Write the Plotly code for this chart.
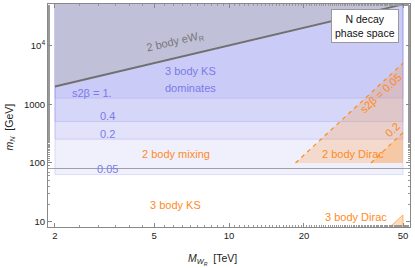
import numpy as np
import plotly.graph_objects as go

# ---- data ----
x_lo, x_hi = 2, 50                     # M_WR range of the regions [TeV]
ew_line_x = [2, 50]                    # 2 body eW_R boundary (m_N = M_WR)
ew_line_y = [2000, 50000]
s2b_vals = ["s2β = 1.", "0.4", "0.2", "0.05"]
s2b_bounds = [1270, 508, 254, 63.5]    # lower edge of each 3-body-KS band [GeV]
mw_line = 80.4                         # horizontal gray line [GeV]
dirac_floor = 100                      # bottom of 2 body Dirac region [GeV]
dirac05_x = [18.5, 50]; dirac05_y = [100, 5000]
dirac02_x = [37.2, 50]; dirac02_y = [100, 330]
dirac3_x = [44.0, 50];  dirac3_y = [8.0, 13.0]
ymin, ymax = 10**0.910, 10**4.705

blue = "rgba(120,120,240,0.115)"
orange_fill = "rgba(255,140,30,0.22)"
orange = "#ff8a1c"
blue_txt = "#7a7ae8"

fig = go.Figure()

# blue bands
for b in s2b_bounds:
    fig.add_trace(go.Scatter(x=[x_lo, x_hi, x_hi, x_lo, x_lo], y=[b, b, 1e6, 1e6, b],
                             fill="toself", fillcolor=blue, mode="lines",
                             line=dict(width=0.8, color="rgba(150,150,230,0.35)"),
                             hoverinfo="skip", showlegend=False))
# gray region
fig.add_trace(go.Scatter(x=[ew_line_x[0], ew_line_x[1], ew_line_x[1], ew_line_x[0], ew_line_x[0]],
                         y=[ew_line_y[0], ew_line_y[1], 1e6, 1e6, ew_line_y[0]],
                         fill="toself", fillcolor="#c0c0d8", mode="lines", line=dict(width=0),
                         hoverinfo="skip", showlegend=False))
# orange regions
for xs, ys in [(dirac05_x, dirac05_y), (dirac02_x, dirac02_y)]:
    fig.add_trace(go.Scatter(x=[xs[0], xs[1], xs[1], xs[0]], y=[dirac_floor, ys[1], dirac_floor, dirac_floor],
                             fill="toself", fillcolor=orange_fill, mode="lines", line=dict(width=0),
                             hoverinfo="skip", showlegend=False))
    fig.add_trace(go.Scatter(x=xs, y=ys, mode="lines",
                             line=dict(color=orange, width=1.2, dash="4px,4px"),
                             hoverinfo="skip", showlegend=False))
fig.add_trace(go.Scatter(x=[dirac3_x[0], dirac3_x[1], dirac3_x[1], dirac3_x[0]],
                         y=[dirac3_y[0], dirac3_y[1], dirac3_y[0], dirac3_y[0]],
                         fill="toself", fillcolor="rgba(255,140,30,0.3)", mode="lines",
                         line=dict(width=1, color="rgba(255,140,30,0.6)"),
                         hoverinfo="skip", showlegend=False))
# lines
fig.add_trace(go.Scatter(x=[1.5, 60], y=[mw_line, mw_line], mode="lines",
                         line=dict(color="rgba(140,140,140,0.8)", width=1.2),
                         hoverinfo="skip", showlegend=False))
fig.add_trace(go.Scatter(x=ew_line_x, y=ew_line_y, mode="lines",
                         line=dict(color="#707070", width=1.8),
                         hoverinfo="skip", showlegend=False))

FONT = "Liberation Sans, Arial, sans-serif"
L = np.log10

def ann(x, y, text, color, size=11, angle=0, **kw):
    fig.add_annotation(x=L(x), y=L(y), text=text, showarrow=False, textangle=angle,
                       font=dict(family=FONT, size=size, color=color), **kw)

ann(6.07, 11500, "2 body eW<sub>R</sub>", "#777777", size=11, angle=-13)
ann(7.03, 3620, "3 body KS", blue_txt)
ann(7.03, 1862, "dominates", blue_txt)
label_pos = [(2.82, 1556), (3.24, 633), (3.24, 313), (3.24, 80)]
for t, (px, py) in zip(s2b_vals, label_pos):
    ann(px, py, t, blue_txt)
ann(6.1, 144, "2 body mixing", orange)
ann(6.1, 19.6, "3 body KS", orange)
ann(31.5, 144, "2 body Dirac", orange)
ann(32.4, 12.2, "3 body Dirac", orange)
ann(40.8, 1535, "s2β = 0.05", orange, angle=-43)
ann(45.2, 362, "0.2", orange, angle=-43)
ann(35.2, 21000, "N decay<br>phase space", "#111111", size=10.5,
    bgcolor="white", bordercolor="#999999", borderwidth=1, borderpad=3)

# axis titles
fig.add_annotation(xref="paper", yref="paper", x=-0.13, y=0.45,
                   text="<i>m</i><sub><i>N</i></sub>  [GeV]", showarrow=False, textangle=-90,
                   font=dict(family=FONT, size=10.5, color="#222222"))
fig.add_annotation(xref="paper", yref="paper", x=0.455, y=-0.145, yanchor="middle",
                   text="<i>M</i><sub><i>W</i><sub><i>R</i></sub></sub>  [TeV]", showarrow=False,
                   font=dict(family=FONT, size=10.5, color="#222222"))

axis_common = dict(showgrid=False, zeroline=False, showline=True, linecolor="#888888",
                   linewidth=1, mirror="allticks", ticks="inside", ticklen=4, automargin=False,
                   tickcolor="#888888", tickfont=dict(family=FONT, size=9.5, color="#222222"),
                   minor=dict(ticks="inside", ticklen=2, tickcolor="#999999", showgrid=False))

fig.update_xaxes(type="log", range=[0.273, 1.727], tickvals=[2, 5, 10, 20, 50],
                 ticktext=["2", "5", "10", "20", "50"], **axis_common)
fig.update_yaxes(type="log", range=[L(ymin), L(ymax)], tickvals=[10, 100, 1000, 10000],
                 ticktext=["10", "100", "1000", "10<sup>4</sup>"], **axis_common)

fig.update_layout(width=415, height=268, margin=dict(l=48, r=5, t=3.5, b=41),
                  plot_bgcolor="white", paper_bgcolor="white", showlegend=False)

fig.write_html("out.html", config={"displayModeBar": False},
               post_script="document.body.style.margin='0';document.body.style.overflow='hidden';")
